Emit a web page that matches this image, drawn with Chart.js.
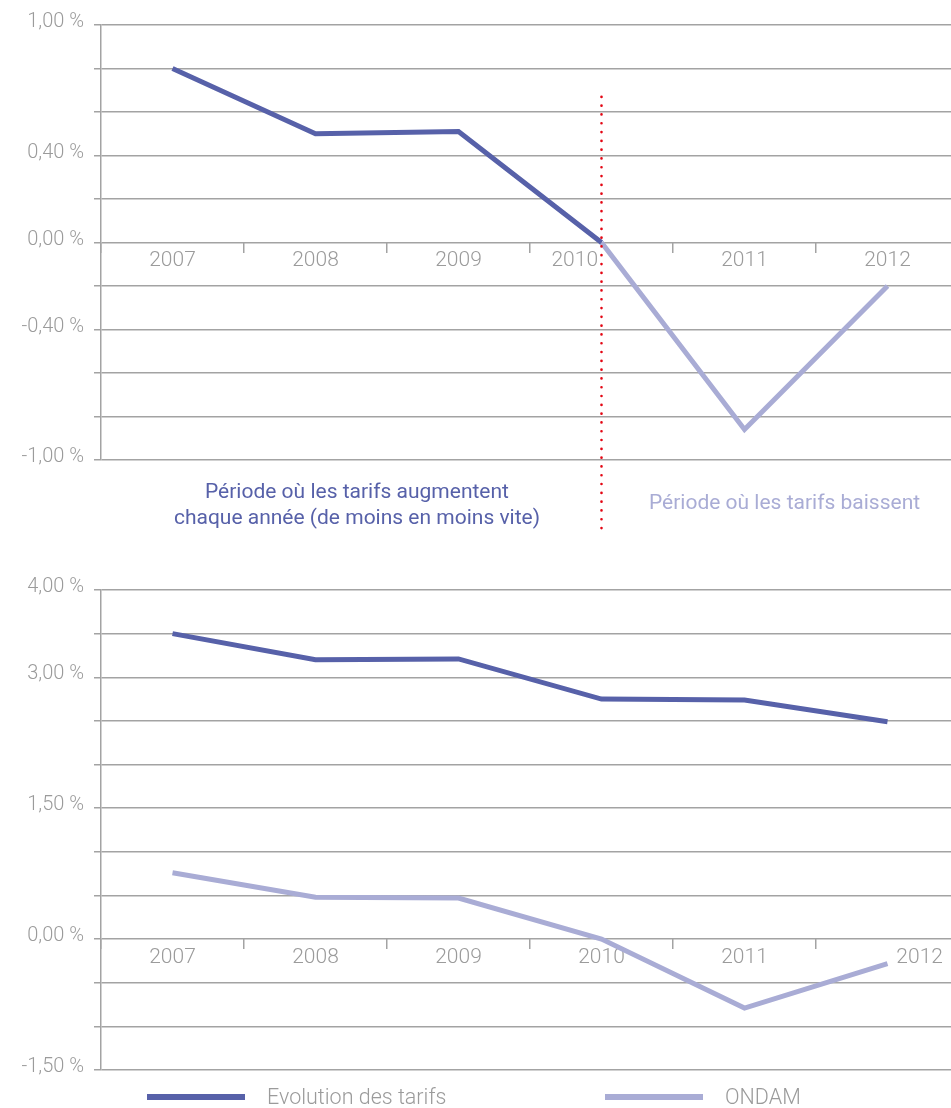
<!DOCTYPE html>
<html lang="fr">
<head>
<meta charset="utf-8">
<title>Evolution des tarifs et ONDAM</title>
<script src="https://cdn.jsdelivr.net/npm/chart.js@4.4.1/dist/chart.umd.min.js"></script>
<style>
  html, body { margin: 0; padding: 0; background: #fff; overflow: hidden; }
  #wrap { width: 951px; height: 1108px; overflow: hidden; position: relative; }
  .box { position: absolute; left: 0; width: 962px; }
  #top { top: 0; height: 550px; }
  #bottom { top: 550px; height: 568px; }
</style>
</head>
<body>
<div id="wrap">
  <div class="box" id="top"><canvas id="chartTop"></canvas></div>
  <div class="box" id="bottom"><canvas id="chartBottom"></canvas></div>
</div>
<script>
const years = ["2007", "2008", "2009", "2010", "2011", "2012"];

// graphique du haut : une seule courbe, coupée en deux périodes
const topRising  = [0.80, 0.50, 0.51, 0.00, null, null];
const topFalling = [null, null, null, 0.00, -0.86, -0.20];
const topTickLabels = [1, 0.4, 0, -0.4, -1];

// graphique du bas
const tarifs = [3.50, 3.20, 3.21, 2.75, 2.74, 2.49];
const ondam  = [0.76, 0.48, 0.47, 0.00, -0.79, -0.28];
const bottomTickLabels = [4, 3, 1.5, 0, -1.5];

const seriesNames = ["Evolution des tarifs", "ONDAM"];
const noteRising = ["Période où les tarifs augmentent", "chaque année (de moins en moins vite)"];
const noteFalling = "Période où les tarifs baissent";

const DARK = "#5761a9";
const LIGHT = "#a9acd5";
const GRID = "#a3a3a3";
const TEXT = "#9b9b9b";

Chart.defaults.font.family = "Roboto, 'Open Sans', sans-serif";

const pct = v => v.toFixed(2).replace(".", ",") + " %";

function yAxis(min, max, step, shown) {
  return {
    min: min,
    max: max,
    afterFit: s => { s.width = 101; },
    border: { display: true, color: GRID, width: 1.5 },
    grid: { color: GRID, lineWidth: 1.5, tickLength: 7 },
    ticks: {
      stepSize: step,
      autoSkip: false,
      padding: 10,
      labelOffset: -3,
      color: TEXT,
      font: { size: 20, weight: 300 },
      callback: v => shown.some(s => Math.abs(s - v) < 1e-6) ? pct(v) : ""
    }
  };
}

function xAxis(label) {
  return {
    type: "category",
    offset: true,
    position: { y: 0 },
    border: { display: false },
    grid: {
      display: true, drawOnChartArea: false, drawTicks: true,
      tickLength: 10, offset: true, color: GRID, lineWidth: 1.5
    },
    ticks: {
      autoSkip: false, maxRotation: 0, padding: -4,
      color: TEXT, font: { size: 21, weight: 300 },
      callback: (v, i) => label(i)
    }
  };
}

function line(label, data, color) {
  return {
    label: label, data: data,
    borderColor: color, backgroundColor: color,
    borderWidth: 5, pointRadius: 0, tension: 0, spanGaps: false
  };
}

// pointillé rouge + textes des deux périodes
const periodNotes = {
  id: "periodNotes",
  afterDraw(chart) {
    const { ctx, chartArea, scales: { x, y } } = chart;
    const split = x.getPixelForValue(3);
    ctx.save();
    ctx.strokeStyle = "#e30613";
    ctx.lineWidth = 2.6;
    ctx.lineCap = "round";
    ctx.setLineDash([0.1, 8.7]);
    ctx.beginPath();
    ctx.moveTo(split, y.getPixelForValue(0.67));
    ctx.lineTo(split, chartArea.bottom + 75);
    ctx.stroke();
    ctx.setLineDash([]);

    ctx.font = "400 21px Roboto";
    ctx.textAlign = "center";
    ctx.textBaseline = "middle";
    ctx.fillStyle = DARK;
    const cx = x.getPixelForValue(1.29);
    ctx.fillText(noteRising[0], cx, chartArea.bottom + 33);
    ctx.fillText(noteRising[1], cx, chartArea.bottom + 59);
    ctx.fillStyle = LIGHT;
    ctx.fillText(noteFalling, x.getPixelForValue(4.28), chartArea.bottom + 44);
    ctx.restore();
  }
};

// légende sous le graphique du bas
const lineLegend = {
  id: "lineLegend",
  afterDraw(chart) {
    const { ctx, chartArea } = chart;
    const yy = chartArea.bottom + 27;
    const starts = [147, 605];
    ctx.save();
    ctx.font = "300 21.5px Roboto";
    ctx.textBaseline = "middle";
    ctx.textAlign = "left";
    chart.data.datasets.forEach((ds, i) => {
      ctx.fillStyle = ds.borderColor;
      ctx.fillRect(starts[i], yy - 3, 98, 6);
      ctx.fillStyle = TEXT;
      ctx.fillText(ds.label, starts[i] + 120, yy + 2);
    });
    ctx.restore();
  }
};

const common = {
  responsive: true,
  maintainAspectRatio: false,
  animation: false,
  plugins: { legend: { display: false }, tooltip: { enabled: false } }
};

new Chart(document.getElementById("chartTop"), {
  type: "line",
  data: {
    labels: years,
    datasets: [
      line(seriesNames[0], topRising, DARK),
      line(seriesNames[0], topFalling, LIGHT)
    ]
  },
  options: {
    ...common,
    layout: { padding: { top: 25, right: 3, bottom: 90, left: 0 } },
    scales: {
      x: xAxis(i => i === 3 ? years[i] + "\u2003\u2003\u2002" : years[i]),
      y: yAxis(-1, 1, 0.2, topTickLabels)
    }
  },
  plugins: [periodNotes]
});

new Chart(document.getElementById("chartBottom"), {
  type: "line",
  data: {
    labels: years,
    datasets: [
      line(seriesNames[0], tarifs, DARK),
      line(seriesNames[1], ondam, LIGHT)
    ]
  },
  options: {
    ...common,
    layout: { padding: { top: 40, right: 3, bottom: 48, left: 0 } },
    scales: {
      x: xAxis(i => i === 5 ? "\u2003\u2003\u2003" + years[i] : years[i]),
      y: yAxis(-1.5, 4, 0.5, bottomTickLabels)
    }
  },
  plugins: [lineLegend]
});
</script>
</body>
</html>
